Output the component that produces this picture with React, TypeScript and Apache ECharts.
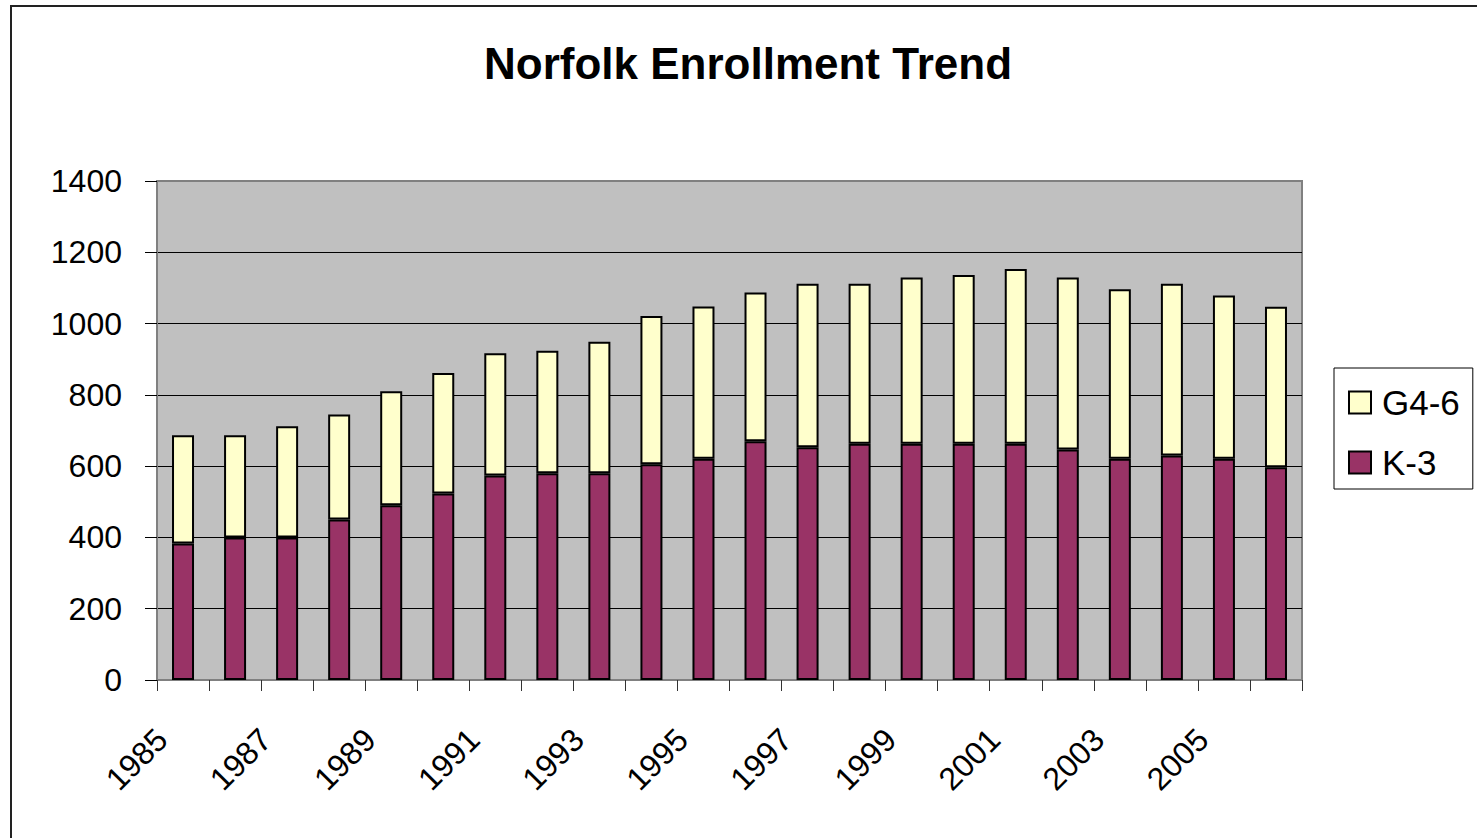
import React, { useEffect, useRef } from "react";
import * as echarts from "echarts";

const years = [
  "1985", "1986", "1987", "1988", "1989", "1990", "1991", "1992", "1993", "1994", "1995",
  "1996", "1997", "1998", "1999", "2000", "2001", "2002", "2003", "2004", "2005", "2006",
];
const k3 = [383, 400, 400, 450, 490, 523, 574, 580, 580, 605, 621, 670, 653, 663, 663, 663, 663, 647, 621, 630, 621, 597];
const g46 = [304, 287, 312, 295, 320, 338, 343, 344, 369, 416, 427, 417, 459, 449, 466, 473, 490, 482, 475, 482, 458, 450];
const yTicks = { min: 0, max: 1400, interval: 200 };

const FONT = "'Liberation Sans', Arial, sans-serif";

export default function App() {
  const ref = useRef<HTMLDivElement>(null);
  useEffect(() => {
    if (!ref.current) return;
    const chart = echarts.init(ref.current, undefined, { renderer: "svg" });
    chart.setOption({
      animation: false,
      backgroundColor: "#fff",
      textStyle: { fontFamily: FONT },
      title: {
        text: "Norfolk Enrollment Trend",
        left: 743,
        textAlign: "center",
        top: 36,
        textStyle: { fontFamily: FONT, fontSize: 44, fontWeight: "bold", color: "#000" },
      },
      graphic: [
        {
          type: "rect",
          shape: { x: 11, y: 6, width: 1500, height: 900 },
          style: { fill: "none", stroke: "#222", lineWidth: 2 },
          silent: true,
          z: 100,
        },
      ],
      legend: {
        orient: "vertical",
        left: 1334,
        top: 368,
        data: ["G4-6", "K-3"],
        icon: "rect",
        itemWidth: 22,
        itemHeight: 22,
        itemGap: 25,
        padding: [17, 13, 9, 14],
        borderColor: "#000",
        borderWidth: 1,
        backgroundColor: "#fff",
        textStyle: { fontFamily: FONT, fontSize: 35, color: "#000", padding: [0, 0, 0, 6] },
      },
      grid: {
        left: 157,
        right: 175,
        top: 181,
        bottom: 158,
        show: true,
        backgroundColor: "#C0C0C0",
        borderColor: "#808080",
        borderWidth: 2,
      },
      xAxis: {
        type: "category",
        data: years,
        boundaryGap: true,
        axisLine: { lineStyle: { color: "#808080", width: 2 } },
        axisTick: { show: true, interval: 0, length: 11, lineStyle: { color: "#333", width: 1 } },
        axisLabel: {
          interval: 1,
          rotate: 45,
          fontSize: 32,
          fontFamily: FONT,
          color: "#000",
          margin: 33,
          padding: [0, 30, 42, 0],
        },
      },
      yAxis: {
        type: "value",
        min: yTicks.min,
        max: yTicks.max,
        interval: yTicks.interval,
        axisLine: { show: true, lineStyle: { color: "#808080", width: 2 } },
        axisTick: { show: true, length: 12, lineStyle: { color: "#000", width: 1 } },
        axisLabel: {
          fontSize: 32,
          fontFamily: FONT,
          color: "#000",
          margin: 35,
          formatter: (v: number) => String(v),
        },
        splitLine: { show: true, showMaxLine: false, lineStyle: { color: "#000", width: 1 } },
      },
      series: [
        {
          name: "K-3",
          type: "bar",
          stack: "total",
          data: k3,
          barWidth: 22,
          itemStyle: { color: "#993366", borderColor: "#000", borderWidth: 2 },
        },
        {
          name: "G4-6",
          type: "bar",
          stack: "total",
          data: g46,
          barWidth: 22,
          itemStyle: { color: "#FFFFCC", borderColor: "#000", borderWidth: 2 },
        },
      ],
    });
    return () => chart.dispose();
  }, []);
  return (
    <div
      ref={ref}
      style={{ position: "fixed", left: 0, top: 0, width: 1477, height: 838 }}
    />
  );
}
